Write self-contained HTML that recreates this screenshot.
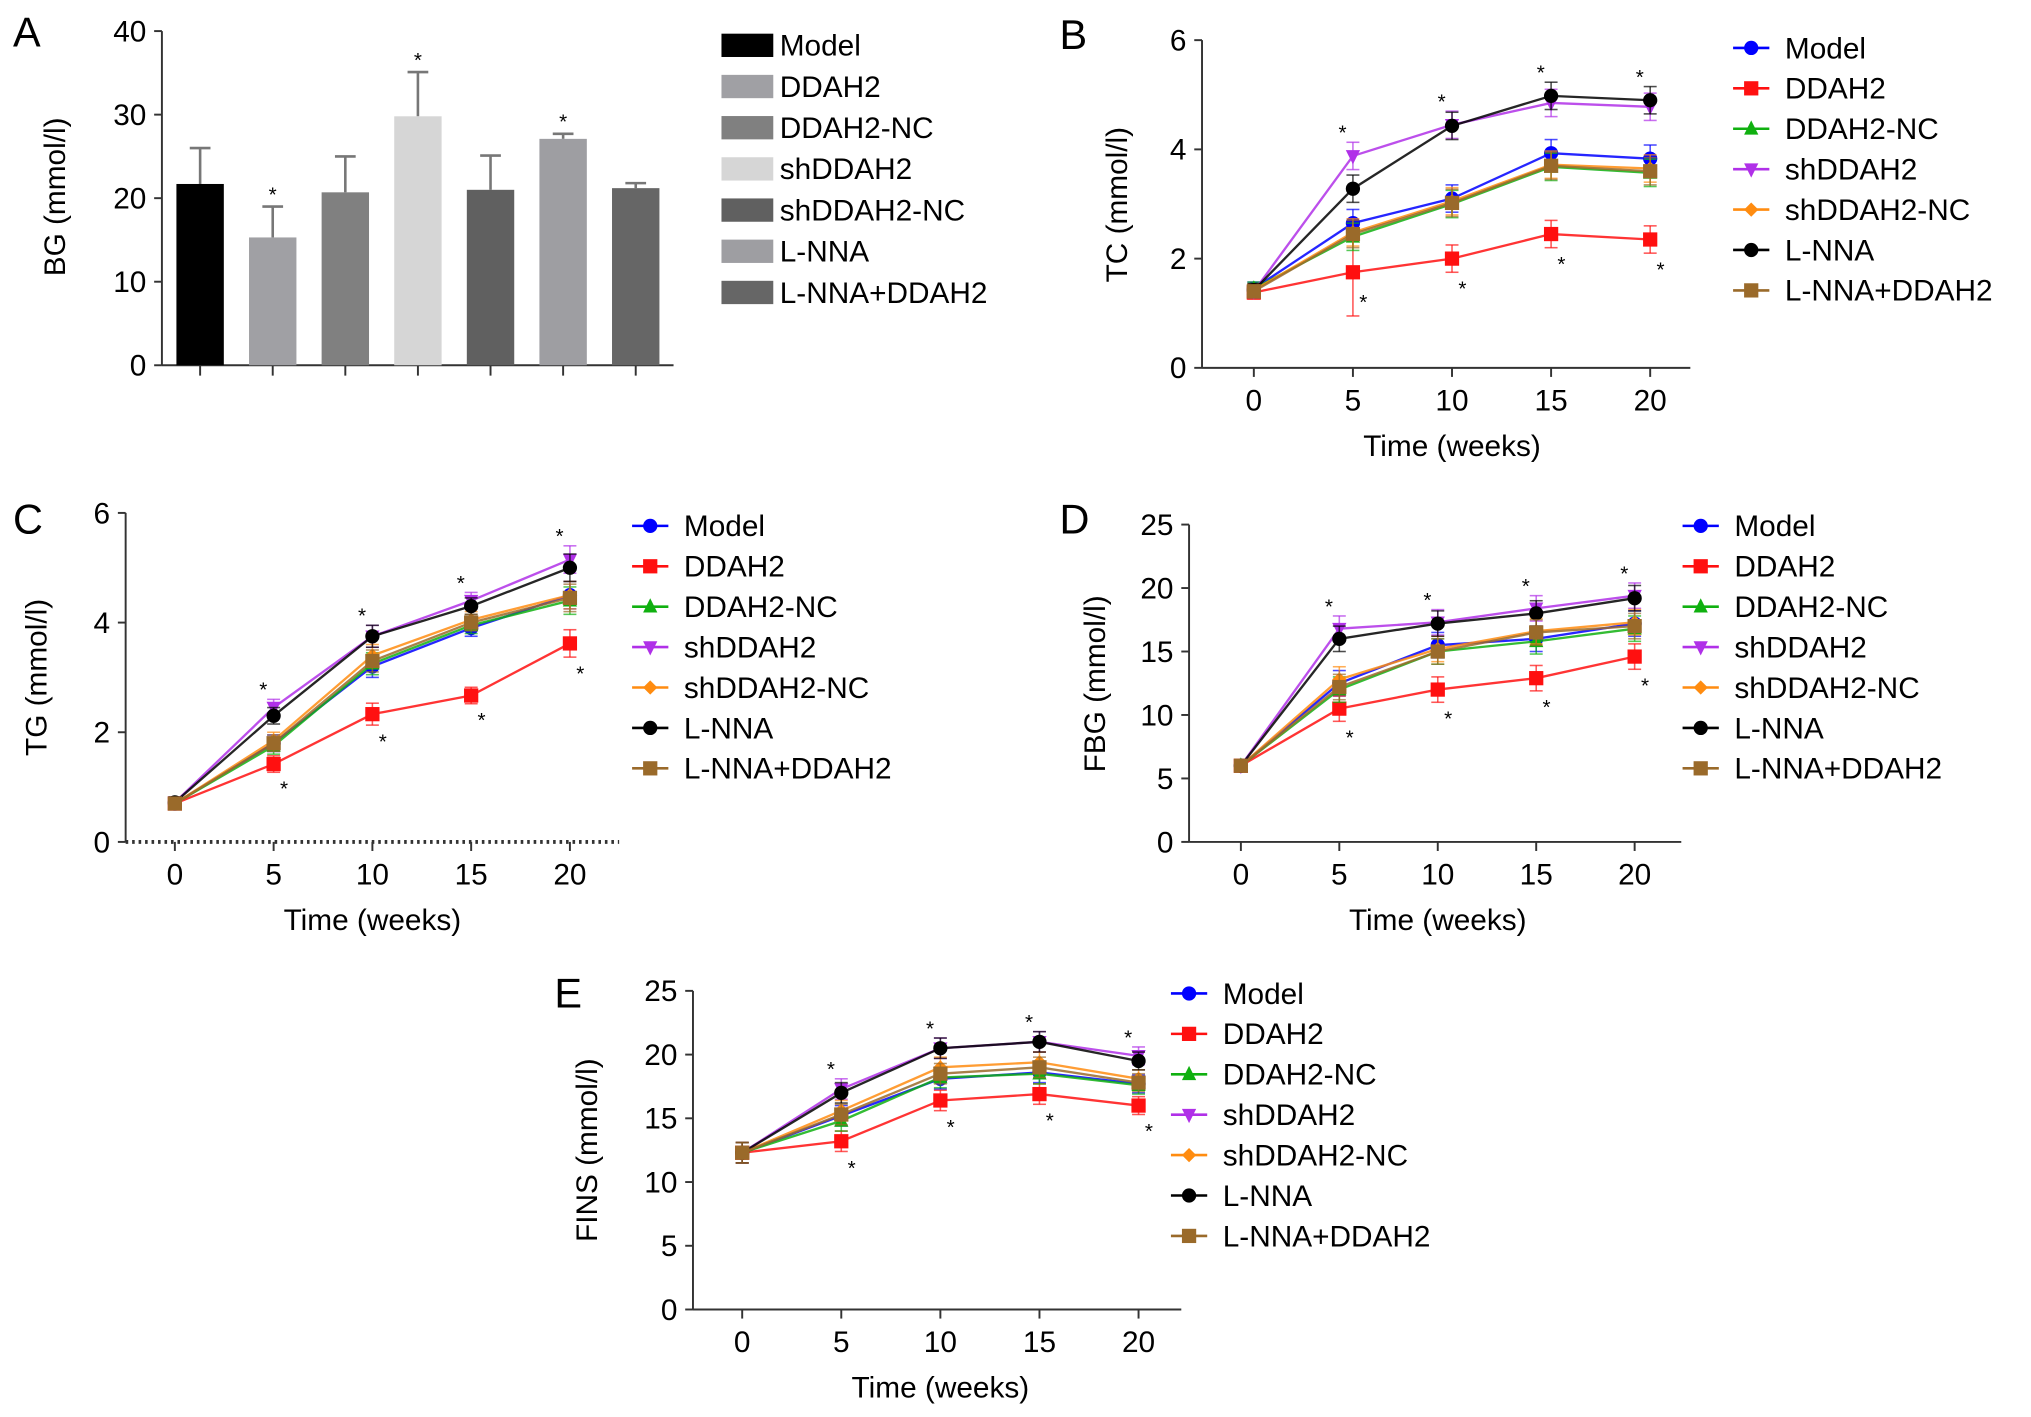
<!DOCTYPE html>
<html><head><meta charset="utf-8"><style>
html,body{margin:0;padding:0;background:#fff;}
svg{display:block;font-family:"Liberation Sans",Arial,sans-serif;}
</style></head><body>
<svg id="fig" width="2031" height="1417" viewBox="0 0 1568 1094" preserveAspectRatio="none" xmlns="http://www.w3.org/2000/svg"></svg>
<script>
// ---- Panel A data ----
const barCats = ["Model","DDAH2","DDAH2-NC","shDDAH2","shDDAH2-NC","L-NNA","L-NNA+DDAH2"];
const barVals = [21.7,15.3,20.7,29.8,21.0,27.1,21.2];
const barErrs = [4.3,3.7,4.3,5.3,4.1,0.6,0.6];
const barStars = [false,true,false,true,false,true,false];
const barTicks = [0,10,20,30,40];
// ---- line series data ----
const series = ["Model","DDAH2","DDAH2-NC","shDDAH2","shDDAH2-NC","L-NNA","L-NNA+DDAH2"];
const weeks = [0,5,10,15,20];
const xTicks = [0,5,10,15,20];
const tcVals = [
 [1.45,2.65,3.1,3.93,3.83],[1.38,1.75,2.0,2.45,2.35],[1.45,2.4,3.0,3.68,3.57],
 [1.4,3.88,4.45,4.85,4.78],[1.42,2.48,3.05,3.72,3.65],[1.42,3.28,4.43,4.98,4.9],[1.4,2.45,3.02,3.7,3.6]];
const tcErr = [0.12,0.25,0.25,0.25,0.25];
const tcTicks = [0,2,4,6];
const tgVals = [
 [0.7,1.8,3.2,3.9,4.5],[0.7,1.42,2.33,2.67,3.62],[0.7,1.75,3.25,3.95,4.4],
 [0.72,2.45,3.75,4.4,5.15],[0.7,1.85,3.4,4.05,4.5],[0.72,2.3,3.75,4.3,5.0],[0.7,1.8,3.3,4.0,4.45]];
const tgErr = [0.1,0.15,0.2,0.15,0.25];
const tgTicks = [0,2,4,6];
const fbgVals = [
 [6,12.5,15.5,16,17.2],[6,10.5,12,12.9,14.6],[6,12,15,15.8,16.8],
 [6,16.8,17.3,18.4,19.4],[6,12.8,15.2,16.6,17.3],[6,16,17.2,18,19.2],[6,12.2,15,16.5,17]];
const fbgErr = [0.3,1.0,1.0,1.0,1.0];
const fbgTicks = [0,5,10,15,20,25];
const finsVals = [
 [12.3,15.2,18.1,18.6,17.7],[12.3,13.2,16.4,16.9,16],[12.3,14.8,18.2,18.5,17.6],
 [12.3,17.3,20.5,21,19.9],[12.3,15.6,19,19.4,18.1],[12.3,17,20.5,21,19.5],[12.3,15.3,18.5,19,17.8]];
const finsErr = [0.8,0.8,0.8,0.8,0.7];
const finsTicks = [0,5,10,15,20,25];

const colors = ["#0000ff","#ff1010","#10b010","#b030e8","#ff8c10","#000000","#9a6a2a"];
const shapes = ["circle","square","tri","tridown","diamond","circle","square"];
const barColors = ["#000","#a0a0a4","#808080","#d6d6d6","#606060","#9e9ea2","#666"];

const NS="http://www.w3.org/2000/svg";
const svg=document.getElementById('fig');
function mk(tag,attrs,parent,text){const e=document.createElementNS(NS,tag);for(const k in attrs)e.setAttribute(k,attrs[k]);if(text!==undefined)e.textContent=text;(parent||svg).appendChild(e);return e;}

function label(txt,x,y){const t=mk('text',{x:x,y:y,'font-size':32},svg,txt);

}

function yTitle(txt,x,cy,name){const t=mk('text',{x:0,y:0,'font-size':23,'text-anchor':'middle',transform:`translate(${x},${cy}) rotate(-90)`},svg,txt);

}

function marker(g,shape,x,y,c){const r=5.5;let e;
if(shape==='circle')e=mk('circle',{cx:x,cy:y,r:r,fill:c},g);
else if(shape==='square')e=mk('rect',{x:x-r,y:y-r,width:2*r,height:2*r,fill:c},g);
else if(shape==='tri')e=mk('polygon',{points:`${x},${y-r-1} ${x-r},${y+r-1} ${x+r},${y+r-1}`,fill:c},g);
else if(shape==='tridown')e=mk('polygon',{points:`${x},${y+r+1} ${x-r},${y-r+1} ${x+r},${y-r+1}`,fill:c},g);
else e=mk('polygon',{points:`${x},${y-r} ${x+r},${y} ${x},${y+r} ${x-r},${y}`,fill:c},g);
return e;}

// ---- Panel A ----
(function(){
 const x0=125,xEnd=520,y0=282,yTop=24,ymax=40;
 const Y=v=>y0-(v/ymax)*(y0-yTop);
 const X=i=>154.5+i*56.05;
 const g=mk('g',{});
 
 
 mk('line',{x1:x0,y1:y0,x2:xEnd,y2:y0,stroke:'#333','stroke-width':1.5},g);
 mk('line',{x1:x0,y1:yTop,x2:x0,y2:y0,stroke:'#333','stroke-width':1.5},g);
 barTicks.forEach(v=>{mk('line',{x1:x0-6,y1:Y(v),x2:x0,y2:Y(v),stroke:'#333','stroke-width':1.5},g);
  const t=mk('text',{x:x0-12,y:Y(v)+8,'font-size':23,'text-anchor':'end'},g,String(v));
  
  });
 barCats.forEach((c,i)=>{const x=X(i);
  mk('line',{x1:x,y1:y0,x2:x,y2:y0+8,stroke:'#333','stroke-width':1.5},g);
  const eb=mk('g',{},g);
  mk('line',{x1:x,y1:Y(barVals[i]),x2:x,y2:Y(barVals[i]+barErrs[i]),stroke:'#777','stroke-width':2},eb);
  mk('line',{x1:x-8,y1:Y(barVals[i]+barErrs[i]),x2:x+8,y2:Y(barVals[i]+barErrs[i]),stroke:'#777','stroke-width':2},eb);
  const b=mk('rect',{x:x-18.3,y:Y(barVals[i]),width:36.6,height:y0-Y(barVals[i]),fill:barColors[i]},g);
  
  
  if(barStars[i]){const s=mk('text',{x:x,y:Y(barVals[i]+barErrs[i])-4,'font-size':16,'text-anchor':'middle'},g,'*');
   
   }
 });
 barCats.forEach((c,i)=>{const y=35+i*31.8;
  const le=mk('g',{},svg);
  
  
  mk('rect',{x:557,y:y-9,width:40,height:18,fill:barColors[i]},le);
  mk('text',{x:602,y:y+8,'font-size':23},le,c);
 });
})();
label('A',10,36);
yTitle('BG (mmol/l)',50,152,'y-axis-title-bg');

// ---- line panels ----
function linePanel(cfg){
 const {ax,y0,yTop,ymax,x0px,x20px,xEnd,vals,err,ticks,legX,legY,name,dotted}=cfg;
 const Y=v=>y0-(v/ymax)*(y0-yTop);
 const X=w=>x0px+(w/20)*(x20px-x0px);
 const g=mk('g',{});
 
 
 mk('line',{x1:ax,y1:y0,x2:xEnd,y2:y0,stroke:'#333','stroke-width':dotted?3:1.5,'stroke-dasharray':dotted?'2 3':'none'},g);
 mk('line',{x1:ax,y1:yTop,x2:ax,y2:y0,stroke:'#333','stroke-width':1.5},g);
 ticks.forEach(v=>{mk('line',{x1:ax-6,y1:Y(v),x2:ax,y2:Y(v),stroke:'#333','stroke-width':1.5},g);
  const t=mk('text',{x:ax-12,y:Y(v)+8,'font-size':23,'text-anchor':'end'},g,String(v));
  
  });
 xTicks.forEach(w=>{mk('line',{x1:X(w),y1:y0,x2:X(w),y2:y0+7,stroke:'#333','stroke-width':1.5},g);
  const t=mk('text',{x:X(w),y:y0+33,'font-size':23,'text-anchor':'middle'},g,String(w));
  
  });
 const xt=mk('text',{x:(x0px+x20px)/2,y:y0+68,'font-size':23,'text-anchor':'middle'},g,'Time (weeks)');
 
 
 vals.forEach((s,k)=>{const sg=mk('g',{},g);
  
  
  const pts=s.map((v,i)=>X(weeks[i])+','+Y(v)).join(' ');
  mk('polyline',{points:pts,fill:'none',stroke:colors[k],'stroke-width':1.8,'stroke-opacity':0.85},sg);
  s.forEach((v,i)=>{const e=(k===1&&name==='panel-b-tc'&&i===1)?0.8:err[i];
   mk('line',{x1:X(weeks[i]),y1:Y(v-e),x2:X(weeks[i]),y2:Y(v+e),stroke:colors[k],'stroke-width':1.2,'stroke-opacity':0.7},sg);
   mk('line',{x1:X(weeks[i])-5,y1:Y(v+e),x2:X(weeks[i])+5,y2:Y(v+e),stroke:colors[k],'stroke-width':1.2,'stroke-opacity':0.7},sg);
   mk('line',{x1:X(weeks[i])-5,y1:Y(v-e),x2:X(weeks[i])+5,y2:Y(v-e),stroke:colors[k],'stroke-width':1.2,'stroke-opacity':0.7},sg);
   marker(sg,shapes[k],X(weeks[i]),Y(v),colors[k]);});
 });
 for(let i=1;i<5;i++){
  const hi=Math.max(vals[3][i],vals[5][i])+err[i];
  const s1=mk('text',{x:X(weeks[i])-8,y:Y(hi)-2,'font-size':16,'text-anchor':'middle'},g,'*');
  
  
  const lo=vals[1][i]-err[i];
  const s2=mk('text',{x:X(weeks[i])+8,y:Y(lo)+18,'font-size':16,'text-anchor':'middle'},g,'*');
  
  
 }
 series.forEach((c,k)=>{const y=legY+k*31.2;
  const le=mk('g',{},svg);
  
  
  mk('line',{x1:legX-14,y1:y,x2:legX+14,y2:y,stroke:colors[k],'stroke-width':2},le);
  marker(le,shapes[k],legX,y,colors[k]);
  mk('text',{x:legX+26,y:y+8,'font-size':23},le,c);
 });
}
linePanel({ax:928,y0:284,yTop:31,ymax:6,x0px:968,x20px:1274,xEnd:1305,vals:tcVals,err:tcErr,ticks:tcTicks,legX:1352,legY:37,name:'panel-b-tc'});
label('B',818,38); yTitle('TC (mmol/l)',870,158,'y-axis-title-tc');
linePanel({ax:97,y0:650,yTop:396,ymax:6,x0px:135,x20px:440,xEnd:478,vals:tgVals,err:tgErr,ticks:tgTicks,legX:502,legY:406,name:'panel-c-tg',dotted:true});
label('C',10,412); yTitle('TG (mmol/l)',36,523,'y-axis-title-tg');
linePanel({ax:918,y0:650,yTop:405,ymax:25,x0px:958,x20px:1262,xEnd:1298,vals:fbgVals,err:fbgErr,ticks:fbgTicks,legX:1313,legY:406,name:'panel-d-fbg'});
label('D',818,412); yTitle('FBG (mmol/l)',853,528,'y-axis-title-fbg');
linePanel({ax:535,y0:1011,yTop:765,ymax:25,x0px:573,x20px:879,xEnd:912,vals:finsVals,err:finsErr,ticks:finsTicks,legX:918,legY:767,name:'panel-e-fins'});
label('E',428,778); yTitle('FINS (mmol/l)',461,888,'y-axis-title-fins');
</script>
</body></html>
